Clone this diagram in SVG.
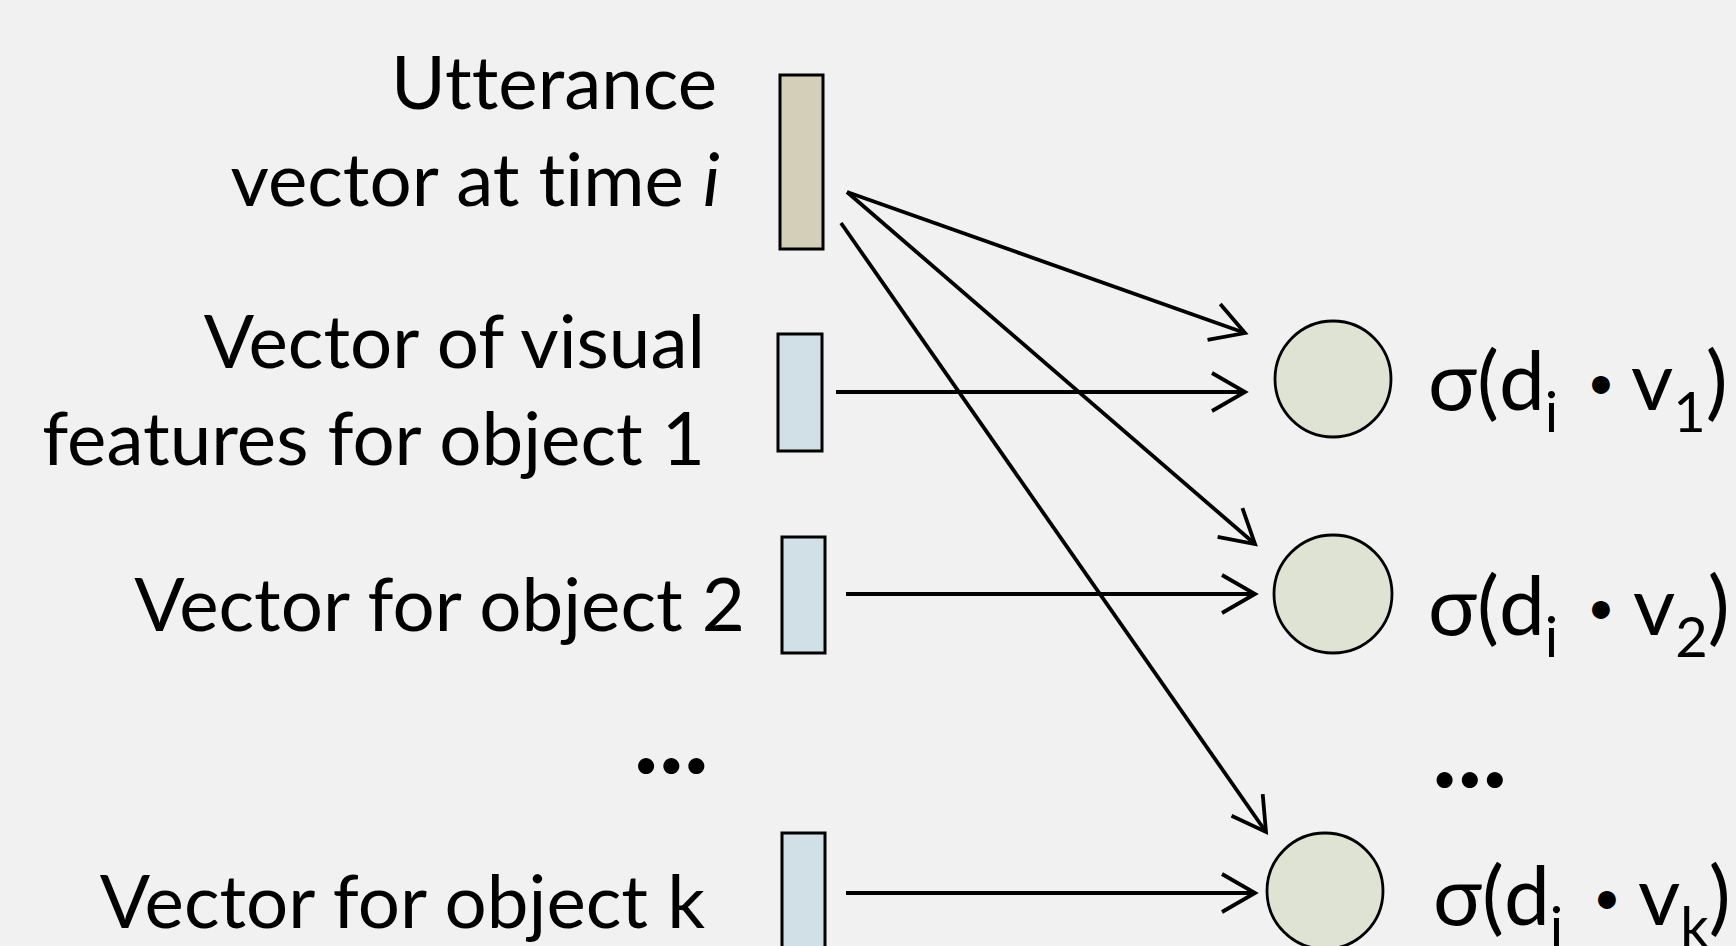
<svg xmlns="http://www.w3.org/2000/svg" width="1736" height="946" viewBox="0 0 1736 946">
  <style>
    .lbl { font-family: Lato, "Open Sans", sans-serif; font-size: 74.5px; fill: #000; font-variant-ligatures: none; font-feature-settings: "liga" 0, "clig" 0; }
    .fn { font-size: 82px; }
    .dots { font-family: Lato, "Open Sans", sans-serif; font-size: 106px; font-weight: bold; fill: #000; }
    .vec { stroke: #000; stroke-width: 3; }
    .utt { fill: #d3cfb8; }
    .obj { fill: #d0e0e6; }
    .unit { fill: #dfe3d3; stroke: #000; stroke-width: 2.8; }
    .conn { stroke: #000; stroke-width: 3.8; fill: none; marker-end: url(#head); }
    .sub { font-size: 56px; }
    .dot { font-size: 48px; }
  </style>
  <defs>
    <marker id="head" markerUnits="userSpaceOnUse" orient="auto" overflow="visible" markerWidth="40" markerHeight="40" refX="0" refY="0">
      <path d="M-33,-19 L0,0 L-33,19" fill="none" stroke="#000" stroke-width="3.8"/>
    </marker>
  </defs>
  <rect width="1736" height="946" fill="#f1f1f1"/>

  <g id="utterance">
    <rect class="vec utt" x="780" y="75" width="43" height="174"/>
    <text class="lbl" x="717" y="109" text-anchor="end">Utterance</text>
    <text class="lbl" x="720" y="206" text-anchor="end">vector at time <tspan font-style="italic">i</tspan></text>
  </g>

  <g id="object1">
    <rect class="vec obj" x="778" y="334" width="44" height="117"/>
    <text class="lbl" x="705" y="368" text-anchor="end">Vector of visual</text>
    <text class="lbl" x="705" y="465" text-anchor="end">features for object 1</text>
  </g>

  <g id="object2">
    <rect class="vec obj" x="782" y="537" width="43" height="116"/>
    <text class="lbl" x="745" y="631" text-anchor="end">Vector for object 2</text>
  </g>

  <g id="objects-ellipsis">
    <text class="dots" x="709" y="773" text-anchor="end">...</text>
  </g>

  <g id="objectk">
    <rect class="vec obj" x="782" y="833" width="43" height="130"/>
    <text class="lbl" x="705" y="928" text-anchor="end">Vector for object k</text>
  </g>

  <g id="score1">
    <circle class="unit" cx="1333" cy="379" r="58"/>
    <text class="lbl fn" x="1428" y="410">σ(d<tspan class="sub" dy="22">i</tspan><tspan class="dot" x="1587" dy="-33">•</tspan><tspan x="1631" dy="11">v</tspan><tspan class="sub" dy="22">1</tspan><tspan dy="-22">)</tspan></text>
  </g>

  <g id="score2">
    <circle class="unit" cx="1333" cy="594" r="59"/>
    <text class="lbl fn" x="1428" y="635">σ(d<tspan class="sub" dy="22">i</tspan><tspan class="dot" x="1587" dy="-33">•</tspan><tspan x="1633" dy="11">v</tspan><tspan class="sub" dy="22">2</tspan><tspan dy="-22">)</tspan></text>
  </g>

  <g id="scores-ellipsis">
    <text class="dots" x="1432" y="787">...</text>
  </g>

  <g id="scorek">
    <circle class="unit" cx="1325" cy="891" r="58"/>
    <text class="lbl fn" x="1433" y="925">σ(d<tspan class="sub" dy="22">i</tspan><tspan class="dot" x="1593" dy="-33">•</tspan><tspan x="1638" dy="11">v</tspan><tspan class="sub" dy="22">k</tspan><tspan dy="-22">)</tspan></text>
  </g>

  <g id="connectors">
    <line class="conn" x1="847" y1="192" x2="1245" y2="333"/>
    <line class="conn" x1="847" y1="192" x2="1255" y2="544"/>
    <line class="conn" x1="841" y1="223" x2="1266" y2="832"/>
    <line class="conn" x1="836" y1="392" x2="1245" y2="392"/>
    <line class="conn" x1="846" y1="594" x2="1255" y2="594"/>
    <line class="conn" x1="846" y1="893" x2="1255" y2="893"/>
  </g>
</svg>
